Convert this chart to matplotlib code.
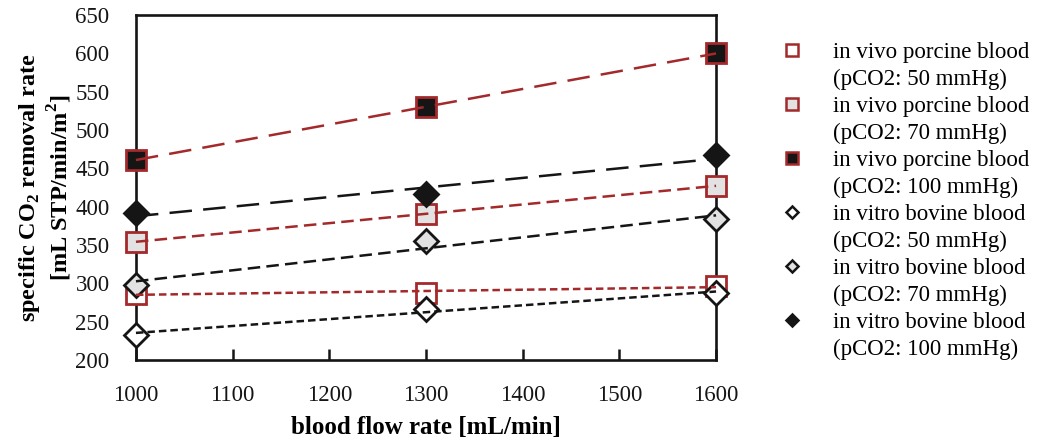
import numpy as np
import matplotlib
matplotlib.use("Agg")
import matplotlib.pyplot as plt
from matplotlib.lines import Line2D

plt.rcParams['font.family'] = ['Liberation Serif', 'DejaVu Serif']
plt.rcParams['mathtext.fontset'] = 'custom'
plt.rcParams['mathtext.rm'] = 'Liberation Serif'
plt.rcParams['mathtext.bf'] = 'Liberation Serif:bold'

# data
flow = [1000, 1300, 1600]
vivo_50 = [286, 288, 296]
vivo_70 = [354, 391, 427]
vivo_100 = [461, 530, 600]
vitro_50 = [233, 267, 287]
vitro_70 = [298, 355, 384]
vitro_100 = [392, 416, 467]

labels = ["in vivo porcine blood", "in vivo porcine blood", "in vivo porcine blood",
          "in vitro bovine blood", "in vitro bovine blood", "in vitro bovine blood"]
sublabels = ["(pCO2: 50 mmHg)", "(pCO2: 70 mmHg)", "(pCO2: 100 mmHg)",
             "(pCO2: 50 mmHg)", "(pCO2: 70 mmHg)", "(pCO2: 100 mmHg)"]

red = '#a3292b'
blk = '#151515'
light = '#e2e2e2'
dash_s = (0, (3, 1.6))
dash_m = (0, (5, 2.5))
dash_l = (0, (9, 4.5))

series = [
    (vivo_50, 's', 'white', red, red, dash_s),
    (vivo_70, 's', light, red, red, dash_m),
    (vivo_100, 's', blk, red, red, dash_l),
    (vitro_50, 'D', 'white', blk, blk, dash_s),
    (vitro_70, 'D', light, blk, blk, dash_m),
    (vitro_100, 'D', blk, blk, blk, dash_l),
]

fig = plt.figure(figsize=(10.37, 4.41), dpi=100)
ax = fig.add_axes([0.1311, 0.1837, 0.5594, 0.7823])

xs = np.array(flow, dtype=float)
xfit = np.array([1000, 1600], dtype=float)
handles = []
for ys, mk, fc, ec, lc, ls in series:
    ms = 15 if mk == 's' else 12.5
    ax.plot(xs, ys, linestyle='none', marker=mk, markersize=ms, markerfacecolor=fc,
            markeredgecolor=ec, markeredgewidth=2, clip_on=False, zorder=4)
    # linear trendline through each series
    k, b = np.polyfit(xs, ys, 1)
    ax.plot(xfit, k * xfit + b, color=lc, linestyle=ls, linewidth=1.8, zorder=5, clip_on=False)
    lms = 8 if mk == 's' else 6.5
    handles.append(Line2D([], [], linestyle='none', marker=mk, markersize=lms,
                          markerfacecolor=fc, markeredgecolor=ec, markeredgewidth=1.8))

ax.set_xlim(1000, 1600)
ax.set_ylim(200, 650)
ax.set_xticks(np.arange(1000, 1601, 100))
ax.set_yticks(np.arange(200, 651, 50))
ax.tick_params(axis='x', direction='in', length=8, width=1.8, pad=18, labelsize=16.5, colors='#151515')
ax.tick_params(axis='y', length=0, pad=19, labelsize=16.5, colors='#151515')
for sp in ax.spines.values():
    sp.set_linewidth(1.9)
    sp.set_color('#151515')

ax.set_xlabel('blood flow rate [mL/min]', fontsize=18, fontweight='bold', labelpad=7.5)
ax.set_ylabel('specific CO$_\\mathbf{2}$ removal rate\n[mL STP/min/m$^\\mathbf{2}$]',
              fontsize=17.5, fontweight='bold', labelpad=1, linespacing=1.15)

# legend: marker on first line, pCO2 note on second line
blank = Line2D([], [], linestyle='none')
leg_h, leg_l = [], []
for h, l1, l2 in zip(handles, labels, sublabels):
    leg_h += [h, blank]
    leg_l += [l1, l2]
fig.legend(leg_h, leg_l, loc='upper left', bbox_to_anchor=(0.7527, 0.904), frameon=False,
           fontsize=16.5, handlelength=1.0, handletextpad=1.28, labelspacing=0.255,
           borderaxespad=0, borderpad=0)

fig.savefig('out.png', dpi=100)
